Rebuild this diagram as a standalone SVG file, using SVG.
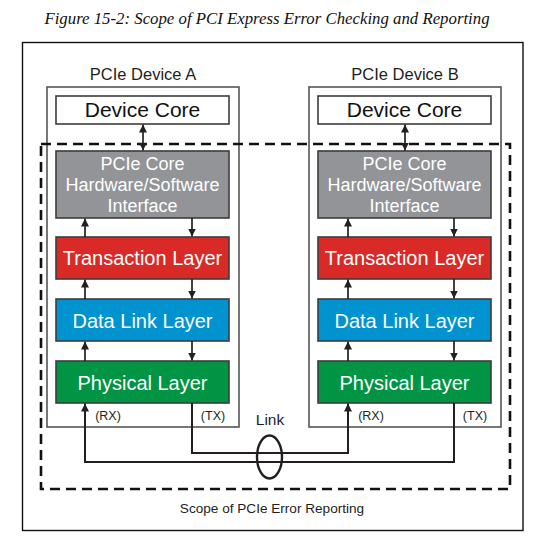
<svg xmlns="http://www.w3.org/2000/svg" width="536" height="540" viewBox="0 0 536 540">
<style>
.t{font-family:"Liberation Sans",Arial,sans-serif;text-anchor:middle}
.dev{fill:#fff;stroke:#555;stroke-width:1.6}
.box{stroke:#3c3c3c;stroke-width:1.6}
.w{fill:#fff}
.ln{fill:none;stroke:#231f20;stroke-width:1.7}
.lk{fill:none;stroke:#231f20;stroke-width:2}
</style>
<defs>
<marker id="ah" viewBox="0 0 10 10" refX="10" refY="5" markerWidth="8" markerHeight="9" markerUnits="userSpaceOnUse" orient="auto-start-reverse">
<path d="M0,0 L10,5 L0,10 Z" fill="#231f20"/>
</marker>
</defs>
<rect width="536" height="540" fill="#fff"/>
<text x="267" y="24" font-family="'Liberation Serif',serif" font-style="italic" font-size="16.8" text-anchor="middle" fill="#111">Figure 15-2: Scope of PCI Express Error Checking and Reporting</text>
<rect x="22.5" y="42.5" width="500.5" height="488" fill="none" stroke="#111" stroke-width="1.4"/>

<g id="deviceA">
<rect class="dev" x="47" y="87" width="192" height="340"/>
<text class="t" x="143" y="80" font-size="16.5" fill="#231f20">PCIe Device A</text>
</g>
<g id="deviceB">
<rect class="dev" x="309" y="87" width="192" height="340"/>
<text class="t" x="405" y="80" font-size="16.5" fill="#231f20">PCIe Device B</text>
</g>

<g id="scope">
<rect x="41" y="144" width="469" height="345" fill="none" stroke="#111" stroke-width="2.6" stroke-dasharray="10 6"/>
<text class="t" x="272" y="513" font-size="13.6" fill="#231f20">Scope of PCIe Error Reporting</text>
</g>

<g id="coreA">
<rect class="box" x="56" y="96" width="173" height="28" fill="#fff"/>
<text class="t" x="142.5" y="117" font-size="21" fill="#111">Device Core</text>
</g>
<g id="ifaceA">
<rect class="box" x="56" y="151" width="173" height="67" fill="#929497"/>
<text class="t w" x="142.5" y="170" font-size="18">PCIe Core</text>
<text class="t w" x="142.5" y="191" font-size="18">Hardware/Software</text>
<text class="t w" x="142.5" y="212" font-size="18">Interface</text>
</g>
<g id="transA">
<rect class="box" x="56" y="237" width="173" height="42" fill="#d92a27"/>
<text class="t w" x="142.5" y="265" font-size="20">Transaction Layer</text>
</g>
<g id="dllA">
<rect class="box" x="56" y="299" width="173" height="42" fill="#0093d0"/>
<text class="t w" x="142.5" y="328" font-size="20">Data Link Layer</text>
</g>
<g id="physA">
<rect class="box" x="56" y="361" width="173" height="42" fill="#009444"/>
<text class="t w" x="142.5" y="390" font-size="20">Physical Layer</text>
</g>

<g id="coreB">
<rect class="box" x="318" y="96" width="173" height="28" fill="#fff"/>
<text class="t" x="404.5" y="117" font-size="21" fill="#111">Device Core</text>
</g>
<g id="ifaceB">
<rect class="box" x="318" y="151" width="173" height="67" fill="#929497"/>
<text class="t w" x="404.5" y="170" font-size="18">PCIe Core</text>
<text class="t w" x="404.5" y="191" font-size="18">Hardware/Software</text>
<text class="t w" x="404.5" y="212" font-size="18">Interface</text>
</g>
<g id="transB">
<rect class="box" x="318" y="237" width="173" height="42" fill="#d92a27"/>
<text class="t w" x="404.5" y="265" font-size="20">Transaction Layer</text>
</g>
<g id="dllB">
<rect class="box" x="318" y="299" width="173" height="42" fill="#0093d0"/>
<text class="t w" x="404.5" y="328" font-size="20">Data Link Layer</text>
</g>
<g id="physB">
<rect class="box" x="318" y="361" width="173" height="42" fill="#009444"/>
<text class="t w" x="404.5" y="390" font-size="20">Physical Layer</text>
</g>

<g id="connectors">
<line class="ln" x1="143" y1="124.5" x2="143" y2="150.5" marker-start="url(#ah)" marker-end="url(#ah)"/>
<line class="ln" x1="85" y1="237" x2="85" y2="218.5" marker-end="url(#ah)"/>
<line class="ln" x1="192" y1="218" x2="192" y2="236.5" marker-end="url(#ah)"/>
<line class="ln" x1="85" y1="299" x2="85" y2="279.5" marker-end="url(#ah)"/>
<line class="ln" x1="192" y1="279" x2="192" y2="298.5" marker-end="url(#ah)"/>
<line class="ln" x1="85" y1="361" x2="85" y2="341.5" marker-end="url(#ah)"/>
<line class="ln" x1="192" y1="341" x2="192" y2="360.5" marker-end="url(#ah)"/>

<line class="ln" x1="405" y1="124.5" x2="405" y2="150.5" marker-start="url(#ah)" marker-end="url(#ah)"/>
<line class="ln" x1="348" y1="237" x2="348" y2="218.5" marker-end="url(#ah)"/>
<line class="ln" x1="454" y1="218" x2="454" y2="236.5" marker-end="url(#ah)"/>
<line class="ln" x1="348" y1="299" x2="348" y2="279.5" marker-end="url(#ah)"/>
<line class="ln" x1="454" y1="279" x2="454" y2="298.5" marker-end="url(#ah)"/>
<line class="ln" x1="348" y1="361" x2="348" y2="341.5" marker-end="url(#ah)"/>
<line class="ln" x1="454" y1="341" x2="454" y2="360.5" marker-end="url(#ah)"/>

<polyline class="lk" points="454,403 454,462 85,462 85,403.5" marker-end="url(#ah)"/>
<polyline class="lk" points="192,403 192,453 348,453 348,403.5" marker-end="url(#ah)"/>
<ellipse cx="269.5" cy="457" rx="12.5" ry="21.5" fill="none" stroke="#231f20" stroke-width="2.4"/>
<text class="t" x="270" y="425" font-size="15.5" fill="#1b1d2e">Link</text>
<text class="t" x="108" y="420" font-size="12.5" fill="#231f20">(RX)</text>
<text class="t" x="213" y="420" font-size="12.5" fill="#231f20">(TX)</text>
<text class="t" x="371" y="420" font-size="12.5" fill="#231f20">(RX)</text>
<text class="t" x="475" y="420" font-size="12.5" fill="#231f20">(TX)</text>
</g>
</svg>
